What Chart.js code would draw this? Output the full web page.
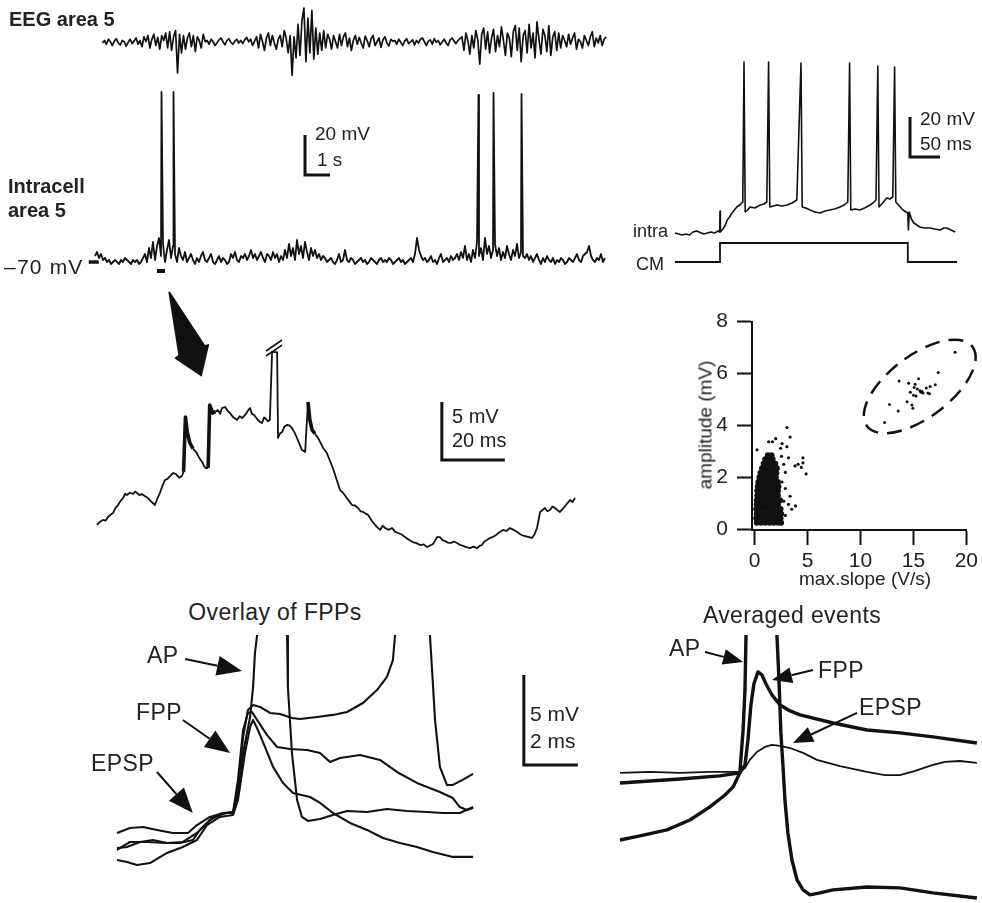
<!DOCTYPE html>
<html>
<head>
<meta charset="utf-8">
<title>Fast prepotentials in area 5</title>
<script src="https://cdn.jsdelivr.net/npm/chart.js@4.4.1/dist/chart.umd.min.js"></script>
<style>
  body { margin: 0; background: #fff; }
  #fig { position: relative; width: 982px; height: 903px; overflow: hidden;
         font-family: "Liberation Sans", Arial, Helvetica, sans-serif; color: #222; }
  #fig canvas { position: absolute; }
  .lbl { position: absolute; line-height: 1; white-space: nowrap; font-size: 20px; transform: translateY(-50%); }
  .lbl.b { font-weight: bold; }
  .lbl.r { transform: translate(-100%, -50%); }
  .lbl.c { transform: translate(-50%, -50%); }
  .lbl.w { font-size: 23px; letter-spacing: 0.4px; }
</style>
</head>
<body>
<div id="fig">
  <canvas id="eeg" width="525" height="80" style="left:90px;top:0px"></canvas>
  <canvas id="intra" width="535" height="195" style="left:80px;top:85px"></canvas>
  <canvas id="cm" width="317" height="215" style="left:665px;top:55px"></canvas>
  <canvas id="zoomTrace" width="500" height="275" style="left:90px;top:285px"></canvas>
  <canvas id="scatter" width="292" height="300" style="left:690px;top:300px"></canvas>
  <canvas id="overlay" width="490" height="250" style="left:100px;top:635px"></canvas>
  <canvas id="averaged" width="382" height="268" style="left:600px;top:635px"></canvas>

  <div class="lbl b" style="left:9px;top:19px">EEG area 5</div>
  <div class="lbl b" style="left:8px;top:186px">Intracell</div>
  <div class="lbl b" style="left:8px;top:210px">area 5</div>
  <div class="lbl" style="left:4px;top:266px;font-size:21px;letter-spacing:1.2px">–70 mV</div>
  <div class="lbl" style="left:315px;top:133px;font-size:19px">20 mV</div>
  <div class="lbl" style="left:317px;top:159px;font-size:19px">1 s</div>

  <div class="lbl" style="left:920px;top:118px;font-size:19px">20 mV</div>
  <div class="lbl" style="left:920px;top:143px;font-size:19px">50 ms</div>
  <div class="lbl r" style="left:668px;top:231px;font-size:18px">intra</div>
  <div class="lbl r" style="left:664px;top:264px;font-size:18px">CM</div>

  <div class="lbl" style="left:452px;top:416px">5 mV</div>
  <div class="lbl" style="left:452px;top:440px">20 ms</div>

  <div class="lbl c" style="left:865px;top:578px;font-size:19px">max.slope (V/s)</div>
  <div class="lbl" style="left:705px;top:425px;font-size:19px;transform:translate(-50%,-50%) rotate(-90deg)">amplitude (mV)</div>

  <div class="lbl c w" style="left:275px;top:612px">Overlay of FPPs</div>
  <div class="lbl w" style="left:147px;top:655px">AP</div>
  <div class="lbl w" style="left:136px;top:712px">FPP</div>
  <div class="lbl w" style="left:91px;top:763px">EPSP</div>
  <div class="lbl" style="left:530px;top:713px;font-size:21px">5 mV</div>
  <div class="lbl" style="left:530px;top:740px;font-size:21px">2 ms</div>

  <div class="lbl c w" style="left:792px;top:615px">Averaged events</div>
  <div class="lbl w" style="left:669px;top:648px">AP</div>
  <div class="lbl w" style="left:818px;top:670px">FPP</div>
  <div class="lbl w" style="left:859px;top:707px">EPSP</div>
</div>

<script>
// ---- EEG, area 5 (µV, sampled every eegDt s from eegT0) ----
const eegT0 = 0.3;
const eegDt = 0.079;
const eegTrace = [
  0, 20, -10, 30, 10, -20, 15, 35, 0, -15, 20, 10, -25, 5, 30, -5, 15, 40, -10, 20,
  -30, 50, 10, 60, -40, 30, 70, -20, 45, -50, 60, 20,
  80, -40, 90, -60, 50, 100, -240, 70, -80, 60,
  -50, 40, 80, -30, 60, -70, 50, 20, -40, 70, 10,
  20, -10, 30, 10, -20, 0, 25, 40, 10, -15, 20, 35, 5, -10, 15, 30, 0, 20, -5, 25, 45, 10, 30, -20, 15,
  50, -40, 70, 10, -60, 40, 80, -20, 60, 0, -50, 30, 60, -30, 100,
  40, -80, 60, -260, 50,
  -120, 150, -100, 180, 280, -150, 200, -80, 260, -130, 120,
  -90, 80, -60, 100, -40, 70,
  30, -50, 60, 10, -40, 70, -20, 50, 80, -30, 40, -60, 20, 60, -10, 45, 0, -40, 55, 20, -30, 35, 60, -20, 10, 40, -35, 25, 50, 0, -25, 30, 15,
  20, -10, 30, 5, -20, 15, 35, -5, 10, 25, -15, 20, 0, 30, 40, 10, -20, 15, 25, -10, 35, 5, 20, -15, 10, 30, 0, -20, 25, 40, 15, -5, 20, 35,
  50, -60, 80, 20, -90, 60, -40, 100, 30, -170, 70, 120, -50, 90, -80, 40, 110, -70, 60, -30, 130, 20, -100, 80, 40,
  -110, 90, 140, -60, 120, -150, 60, 100, -80, 150, -40, 80, -120, 170, 30, -90, 110, 60, -70, 140, -100, 50, 90, -60, 80,
  -40, 60, 20, -30, 70, -10, 40, 80, -50, 30, 10, -40, 60, 20, -20, 50, 90, -30, 40, 0, 60, -20, 30, 50
];

// ---- intracellular, area 5 (mV every intraDt s) and spikes [t s, peak mV] ----
const intraDt = 0.08;
const intraTrace = [
  -67, -65, -68, -66, -69, -68, -70, -69, -71, -70, -69, -70, -71, -69, -70, -68, -69, -70, -71, -69, -70, -69, -71, -70, -68,
  -66, -70, -63, -68, -60, -69, -62, -58, -67, -61, -70, -64, -59, -68, -62, -66, -70, -63,
  -67, -69, -65, -70, -68, -66, -69, -71, -68, -70, -67, -65, -69, -70, -68, -66, -70, -71, -69, -67, -70, -68, -69, -71, -70, -66,
  -68, -65, -69, -70, -67, -68, -66, -69, -67, -64, -68, -66, -69, -67, -65, -68, -70, -66, -67, -69, -65, -68, -66, -70, -67, -69,
  -64, -68, -61, -67, -63, -69, -59, -66, -62, -68, -60, -65, -69, -63, -67, -64, -68, -66, -69, -67,
  -68, -70, -69, -68, -70, -71, -69, -66, -70, -69, -64, -69, -70, -68, -69, -71, -70, -69, -68, -70, -69, -71, -70, -68, -69,
  -70, -71, -69, -68, -70, -69, -70, -68, -69, -71, -70, -69, -68, -70, -69, -71, -70, -69,
  -68, -70, -66, -58, -64, -67, -69, -68, -70, -69, -67, -70, -69, -71, -68, -66, -70, -69, -68, -70, -67, -69, -68,
  -66, -69, -65, -68, -62, -69, -66, -70, -64, -68, -60, -67, -63, -69, -58, -66, -62, -68, -64, -61, -67, -63, -69, -65, -68,
  -62, -66, -69, -64, -67, -61, -68, -65, -67,
  -68, -66, -69, -67, -70, -68, -66, -69, -71, -68, -70, -67, -69, -70, -68, -71, -69, -70, -68, -69, -71, -70, -68, -69, -70,
  -68, -66, -69, -70, -67, -66, -65, -62, -67, -69, -70, -68, -69, -66, -70, -68
];
const intraSpikes = [[2.66, 15], [3.14, 15], [15.34, 13.5], [15.94, 14.5], [17.06, 14]];

// ---- CM stimulation: intracellular response [ms, mV] and command step ----
const cmIntraTrace = [
  [0, -70], [6, -70.5], [12, -71], [18, -70.5], [24, -71], [30, -69.5], [36, -69], [42, -69.8], [48, -70.5], [54, -70],
  [60, -69.5], [66, -70], [72, -69], [74.5, -69.5], [75, -59], [75.6, -69.5], [80, -68], [84, -66], [87, -63.5], [91, -62],
  [95, -60], [99, -58.5], [103, -57], [108, -56], [113, -54.5], [115, 15.5], [117, -59.5], [121, -58.5], [125, -57],
  [133, -57.5], [142, -56], [148, -55.5], [153, -54.5], [156, 15.5], [158, -57], [164, -56.5], [170, -56], [178, -56.5],
  [187, -56], [195, -55], [203, -53.5], [210, 15], [212, -57], [218, -57.5], [225, -58.5], [233, -59.5], [242, -60],
  [250, -59], [258, -58.5], [266, -58], [275, -57], [282, -56], [288, -54.5], [291, 15], [293, -58.5], [300, -58],
  [308, -58.5], [316, -57.5], [325, -56], [330, -55], [335, -53.5], [338, 13.5], [340, -57], [346, -55], [353, -52.5],
  [358, -53], [363, -52], [366, 13], [368, -54.5], [374, -56.5], [380, -58.5], [385, -59.5], [388, -60], [389, -68.5],
  [390.5, -59.5], [394, -63], [398, -65], [403, -66], [408, -67], [416, -67.5], [425, -67.5], [433, -68], [442, -68.5],
  [448, -67.5], [453, -67.5], [460, -68.5], [467, -69.5]
];
const cmTimes = [0, 75, 75, 388, 388, 470];
const cmLevels = [0, 0, 1, 1, 0, 0];

// ---- expanded segment under the bar [ms, mV] ----
const zoomTrace = [
  [2.2, 3.02], [3.2, 3.3], [4.1, 3.45], [5.0, 3.4], [5.7, 3.71], [6.5, 3.9], [7.3, 4.05], [8.1, 4.5], [8.9, 4.74],
  [9.7, 5.1], [10.5, 5.34], [11.1, 5.7], [11.7, 5.6], [12.7, 5.8], [13.7, 5.69], [14.3, 5.9], [14.9, 5.78], [15.7, 5.6],
  [16.5, 5.69], [17.5, 5.5], [18.4, 5.34], [19.6, 5.0], [20.6, 4.74], [21.4, 5.3], [22.2, 5.78], [23.0, 6.4], [23.8, 6.9],
  [24.6, 7.0], [25.4, 7.24], [26.4, 7.5], [27.3, 7.41], [28.3, 7.1], [29.2, 7.24], [29.7, 7.6], [30.3, 12.33], [30.9, 11.0],
  [31.7, 10.09], [32.7, 9.6], [33.7, 9.31], [34.7, 8.8], [35.6, 8.45], [36.2, 8.1], [36.8, 7.93], [37.5, 7.93],
  [38.0, 13.36], [39.0, 12.67], [39.8, 12.8], [40.6, 12.93], [41.3, 12.6], [41.9, 13.1], [42.9, 13.19], [43.6, 12.9],
  [44.4, 12.67], [45.5, 12.3], [46.7, 12.07], [47.5, 12.4], [48.3, 12.24], [49.5, 12.59], [50.2, 12.9], [50.8, 13.1],
  [51.4, 12.6], [52.1, 12.5], [53.3, 12.07], [54.0, 11.9], [54.6, 11.81], [55.3, 12.3], [55.9, 12.16], [56.5, 11.95],
  [57.1, 12.07], [57.8, 17.93], [59.4, 17.93], [59.7, 10.52], [60.3, 10.9], [61.0, 11.03], [61.7, 11.5], [62.5, 11.64],
  [63.3, 11.6], [64.1, 11.38], [64.9, 11.0], [65.7, 10.52], [66.5, 10.0], [67.3, 9.48], [68.3, 9.31], [69.2, 13.62],
  [69.8, 12.07], [70.5, 11.21], [71.4, 10.9], [72.4, 10.52], [73.2, 10.1], [74.0, 9.66], [75.2, 9.22], [76.1, 8.6],
  [77.1, 7.93], [78.2, 7.0], [79.4, 6.03], [80.3, 5.8], [81.3, 5.43], [82.2, 5.1], [83.2, 4.74], [84.1, 4.7], [85.1, 4.48],
  [85.9, 4.2], [86.7, 4.14], [87.5, 4.0], [88.3, 3.88], [89.5, 3.36], [90.8, 2.93], [92.1, 2.59], [92.9, 2.95],
  [93.7, 2.76], [94.8, 2.6], [95.9, 2.76], [96.8, 2.45], [97.8, 2.33], [98.9, 2.2], [100.0, 1.98], [101.2, 1.75],
  [102.5, 1.55], [103.6, 1.45], [104.8, 1.29], [105.9, 1.35], [107.0, 1.12], [108.9, 1.38], [109.6, 1.7], [110.2, 1.98],
  [111.1, 1.98], [111.9, 1.7], [112.7, 1.64], [113.6, 1.5], [114.6, 1.47], [115.5, 1.6], [116.5, 1.47], [117.5, 1.3],
  [118.4, 1.21], [119.5, 1.1], [120.6, 1.03], [121.7, 1.15], [122.9, 1.03], [123.6, 1.2], [124.4, 1.29], [125.2, 1.6],
  [126.0, 1.72], [127.0, 1.9], [128.0, 2.0], [128.9, 2.16], [130.0, 2.4], [131.1, 2.59], [132.2, 2.5], [133.3, 2.76],
  [134.5, 2.6], [135.6, 2.41], [136.7, 2.2], [137.8, 2.07], [139.0, 2.0], [140.3, 1.9], [141.1, 2.2], [141.9, 2.76],
  [142.9, 4.14], [143.6, 4.3], [144.4, 4.48], [145.2, 4.2], [146.0, 4.31], [146.8, 4.6], [147.6, 4.48], [148.4, 4.3],
  [149.2, 4.14], [150.1, 4.4], [151.1, 4.74], [152.4, 5.17], [153.2, 5.0], [154.0, 5.34]
];
const fppWindows = [[29.4, 31.8], [37.4, 39.1], [68.4, 70.6]];

// ---- amplitude vs max. slope of the depolarizing events ----
const slopeTicks = [0, 5, 10, 15, 20];
const ampTicks = [0, 2, 4, 6, 8];
// dense cloud of EPSPs, read row by row: [amplitude mV, [max slope V/s ...]]
const epspRows = [
  [0.25, [0.2, 0.6, 1.0, 1.4, 1.8, 2.2, 2.5]],
  [0.42, [0.15, 0.55, 0.95, 1.35, 1.75, 2.15, 2.45]],
  [0.6, [0.2, 0.6, 1.0, 1.4, 1.8, 2.2, 2.5]],
  [0.78, [0.15, 0.55, 0.95, 1.35, 1.75, 2.15, 2.45]],
  [0.95, [0.2, 0.6, 1.0, 1.4, 1.8, 2.2]],
  [1.12, [0.2, 0.55, 0.95, 1.35, 1.75, 2.1, 2.4]],
  [1.3, [0.25, 0.6, 1.0, 1.4, 1.8, 2.2]],
  [1.48, [0.25, 0.65, 1.05, 1.45, 1.85, 2.2]],
  [1.65, [0.3, 0.7, 1.1, 1.5, 1.9, 2.25]],
  [1.82, [0.35, 0.75, 1.15, 1.55, 1.95, 2.2]],
  [2.0, [0.45, 0.85, 1.25, 1.65, 2.0]],
  [2.18, [0.55, 0.95, 1.35, 1.75, 2.05]],
  [2.35, [0.7, 1.05, 1.45, 1.85, 2.1]],
  [2.52, [0.85, 1.2, 1.6, 1.95]],
  [2.7, [1.0, 1.35, 1.7]],
  [2.85, [1.25, 1.6]]
];
const epspStray = [
  [3.05, 3.92], [3.35, 3.55], [1.99, 3.49], [1.68, 3.37], [1.32, 3.37], [2.59, 3.30], [2.45, 3.12], [0.23, 3.06],
  [3.05, 3.18], [3.20, 2.75], [2.54, 2.81], [2.75, 2.50], [3.81, 2.44], [4.11, 2.50], [4.56, 2.75], [4.56, 2.56],
  [4.41, 2.38], [4.86, 2.13], [2.90, 2.19], [2.59, 1.82], [2.90, 1.57], [3.35, 1.27], [3.20, 0.96], [3.50, 0.77],
  [3.86, 0.90], [2.90, 0.53], [2.75, 1.08], [2.36, 0.83]
];
const fppPoints = [
  [12.28, 4.11], [12.74, 4.81], [13.56, 4.56], [13.65, 5.71], [14.40, 4.91], [14.55, 5.62], [14.71, 5.28], [14.86, 4.79],
  [14.95, 4.66], [15.01, 5.16], [15.07, 5.46], [15.16, 5.59], [15.25, 5.13], [15.37, 5.40], [15.49, 5.80], [15.62, 5.34],
  [15.71, 5.28], [15.80, 5.31], [15.92, 5.25], [16.22, 5.44], [16.37, 5.25], [16.52, 5.22], [16.58, 5.50], [17.07, 5.57],
  [17.34, 6.04], [18.94, 6.82]
];

// ---- overlay of four FPP sweeps [ms, mV] ----
const sweepA = [
  [0, 0], [0.48, 0.28], [0.96, 0.33], [1.48, 0.17], [2.07, 0], [2.63, 0], [2.96, 0.44], [3.44, 0.89], [3.93, 1.11],
  [4.30, 1.17], [4.48, 2.22], [4.67, 4.44], [4.93, 6.44], [5.04, 8.11], [5.11, 10.0], [5.19, 11.0], [5.4, 20],
  [6.1, 20], [6.30, 11.0], [6.33, 8.11], [6.48, 4.44], [6.67, 1.83], [6.85, 0.89], [7.07, 0.67], [7.52, 0.78],
  [8.0, 1.0], [8.52, 1.22], [9.26, 1.17], [10.0, 1.33], [10.74, 1.22], [11.48, 1.17], [12.07, 1.11], [12.70, 1.11],
  [13.19, 1.44]
];
const sweepB = [
  [0, -0.83], [0.37, -0.78], [0.85, -0.5], [1.33, -0.39], [1.85, -0.56], [2.44, -0.5], [2.96, 0], [3.44, 0.72],
  [3.93, 1.11], [4.30, 1.11], [4.48, 2.56], [4.67, 5.33], [4.85, 6.83], [5.04, 7.11], [5.30, 7.0], [5.67, 6.67],
  [6.04, 6.61], [6.48, 6.39], [6.78, 6.33], [7.41, 6.44], [8.0, 6.56], [8.52, 6.72], [9.11, 7.22], [9.63, 7.94],
  [10.0, 8.67], [10.22, 9.61], [10.30, 11.0], [10.5, 20], [11.4, 20], [11.59, 11.0], [11.67, 9.06], [11.78, 6.28],
  [11.96, 3.67], [12.22, 2.67], [12.44, 2.67], [12.78, 2.94], [13.19, 3.28]
];
const sweepC = [
  [0, -0.94], [0.48, -0.5], [1.11, -0.5], [1.85, -0.56], [2.33, -0.56], [2.81, -0.39], [3.07, 0.17], [3.56, 0.89],
  [4.07, 1.11], [4.30, 1.17], [4.48, 2.94], [4.67, 5.72], [4.85, 6.67], [5.0, 6.72], [5.19, 6.28], [5.56, 5.44],
  [5.93, 4.78], [6.41, 4.67], [7.04, 4.61], [7.52, 4.44], [7.89, 3.94], [8.26, 4.17], [9.0, 4.33], [9.74, 4.06],
  [10.37, 3.39], [11.11, 2.78], [11.96, 2.28], [12.44, 1.94], [12.70, 1.44], [12.96, 1.28], [13.19, 1.39]
];
const sweepD = [
  [0, -1.5], [0.37, -1.61], [0.74, -1.78], [1.22, -1.67], [1.85, -1.11], [2.44, -0.78], [2.96, -0.39], [3.33, 0.44],
  [3.81, 0.89], [4.30, 1.0], [4.48, 1.83], [4.74, 4.44], [4.93, 5.89], [5.04, 6.28], [5.22, 5.72], [5.48, 4.78],
  [5.78, 3.67], [6.15, 2.78], [6.52, 2.22], [7.15, 2.0], [7.52, 1.67], [8.0, 1.11], [8.63, 0.56], [9.26, 0.17],
  [9.85, -0.28], [10.48, -0.56], [11.11, -0.78], [11.70, -1.06], [12.44, -1.33], [13.19, -1.33]
];

// ---- averaged AP, FPP and EPSP [ms, mV] ----
const avgAP = [
  [0, -3.17], [0.74, -2.94], [1.74, -2.61], [2.59, -2.06], [3.33, -1.33], [3.89, -0.67], [4.19, -0.22], [4.44, 0.56],
  [4.56, 2.94], [4.63, 5.17], [4.67, 8.33], [4.8, 16], [5.6, 18], [5.75, 14], [5.81, 8.33], [5.89, 5.72], [5.96, 2.78],
  [6.04, 0.89], [6.11, -0.94], [6.22, -2.78], [6.37, -4.28], [6.56, -5.39], [6.78, -5.94], [7.04, -6.22], [7.41, -6.11],
  [7.89, -5.94], [9.15, -5.78], [10.37, -5.83], [11.59, -6.11], [13.22, -6.39]
];
const avgFPP = [
  [0, 0], [2.22, 0.22], [3.70, 0.39], [4.44, 0.56], [4.63, 1.0], [4.74, 2.39], [4.85, 4.33], [4.96, 5.5], [5.11, 6.17],
  [5.26, 6.0], [5.41, 5.5], [5.63, 4.89], [5.93, 4.33], [6.30, 4.0], [6.67, 3.78], [7.89, 3.33], [9.15, 2.94],
  [10.37, 2.78], [11.59, 2.56], [13.22, 2.22]
];
const avgEPSP = [
  [0, 0.56], [1.11, 0.61], [2.22, 0.56], [3.33, 0.61], [4.44, 0.61], [4.63, 0.83], [4.81, 1.28], [5.07, 1.72],
  [5.37, 2.0], [5.63, 2.11], [5.93, 2.06], [6.30, 1.94], [6.78, 1.67], [7.30, 1.28], [8.15, 0.94], [9.15, 0.61],
  [9.81, 0.44], [10.37, 0.44], [10.93, 0.67], [11.59, 1.0], [12.04, 1.17], [12.59, 1.22], [13.22, 1.11]
];

const INK = '#111';
const FONT = "'Liberation Sans', Arial, Helvetica, sans-serif";

const xy = pairs => pairs.map(p => ({ x: p[0], y: p[1] }));

function line(data, width, extra) {
  return Object.assign({
    data: data, borderColor: INK, borderWidth: width, pointRadius: 0,
    tension: 0, fill: false, borderJoinStyle: 'round', borderCapStyle: 'butt'
  }, extra || {});
}

// L-shaped calibration bar, corner at (x, y), going up by dy and right by dx
function scaleBar(x, y, dx, dy, extra) {
  return line([{ x: x, y: y + dy }, { x: x, y: y }, { x: x + dx, y: y }], 3, Object.assign({ borderJoinStyle: 'miter' }, extra || {}));
}

// arrows, filled wedges, free strokes and dashed ellipses, placed in data units
const panelMarks = {
  id: 'panelMarks',
  afterDatasetsDraw(chart, args, opts) {
    const ctx = chart.ctx;
    const X = v => chart.scales.x.getPixelForValue(v);
    const Y = v => chart.scales.y.getPixelForValue(v);
    ctx.save();
    ctx.strokeStyle = INK;
    ctx.fillStyle = INK;
    (opts.arrows || []).forEach(a => {
      const x0 = X(a.from[0]), y0 = Y(a.from[1]), x1 = X(a.to[0]), y1 = Y(a.to[1]);
      const ang = Math.atan2(y1 - y0, x1 - x0);
      const hl = a.head || 22, hw = a.half || 9;
      const bx = x1 - hl * Math.cos(ang), by = y1 - hl * Math.sin(ang);
      ctx.lineWidth = 2;
      ctx.beginPath(); ctx.moveTo(x0, y0); ctx.lineTo(bx, by); ctx.stroke();
      ctx.beginPath();
      ctx.moveTo(x1, y1);
      ctx.lineTo(bx + hw * Math.sin(ang), by - hw * Math.cos(ang));
      ctx.lineTo(bx - hw * Math.sin(ang), by + hw * Math.cos(ang));
      ctx.closePath(); ctx.fill();
    });
    (opts.shapes || []).forEach(s => {
      ctx.beginPath();
      s.forEach((p, i) => i ? ctx.lineTo(X(p[0]), Y(p[1])) : ctx.moveTo(X(p[0]), Y(p[1])));
      ctx.closePath(); ctx.fill();
    });
    (opts.strokes || []).forEach(s => {
      ctx.lineWidth = 1.6;
      ctx.beginPath();
      s.forEach((p, i) => i ? ctx.lineTo(X(p[0]), Y(p[1])) : ctx.moveTo(X(p[0]), Y(p[1])));
      ctx.stroke();
    });
    (opts.ellipses || []).forEach(e => {
      ctx.lineWidth = 2.5;
      ctx.setLineDash([15, 9]);
      ctx.beginPath();
      ctx.ellipse(X(e.center[0]), Y(e.center[1]), e.rx, e.ry, e.rotate * Math.PI / 180, 0, Math.PI * 2);
      ctx.stroke();
      ctx.setLineDash([]);
    });
    ctx.restore();
  }
};

function traceChart(id, datasets, xr, yr, marks, extraScales) {
  const scales = {
    x: { type: 'linear', display: false, min: xr[0], max: xr[1] },
    y: { type: 'linear', display: false, min: yr[0], max: yr[1] }
  };
  Object.assign(scales, extraScales || {});
  return new Chart(document.getElementById(id), {
    type: 'line',
    data: { datasets: datasets },
    options: {
      responsive: false,
      animation: false,
      events: [],
      layout: { padding: 0 },
      scales: scales,
      plugins: { legend: { display: false }, tooltip: { enabled: false }, panelMarks: marks || {} }
    },
    plugins: [panelMarks]
  });
}

// EEG
traceChart('eeg',
  [line(eegTrace.map((v, i) => ({ x: eegT0 + i * eegDt, y: v })), 1.7)],
  [-0.2, 20.8], [-296, 344]);

// intracellular trace with spikes merged in by time
const intraPts = intraTrace.map((v, i) => ({ x: i * intraDt, y: v }));
intraSpikes.forEach(s => intraPts.push({ x: s[0], y: s[1] }));
intraPts.sort((a, b) => a.x - b.x);
traceChart('intra', [
  line(intraPts, 1.8),
  line([{ x: -0.25, y: -70 }, { x: 0.15, y: -70 }], 3.5),
  line([{ x: 2.48, y: -74.5 }, { x: 2.8, y: -74.5 }], 4),
  scaleBar(8.4, -26.5, 1, 20)
], [-0.6, 20.8], [-79, 18.5]);

// CM-evoked firing
traceChart('cm', [
  line(xy(cmIntraTrace), 1.6),
  line(cmTimes.map((t, i) => ({ x: t, y: cmLevels[i] })), 1.8, { yAxisID: 'yCM', borderJoinStyle: 'miter' }),
  scaleBar(391.7, -32, 50, 20)
], [-16.67, 511.67], [-88.5, 19], {}, {
  yCM: { type: 'linear', display: false, min: -0.421, max: 10.895 }
});

// expanded segment, FPPs drawn thicker
traceChart('zoomTrace', [
  line(xy(zoomTrace), 1.8, {
    segment: {
      borderWidth: c => fppWindows.some(w => c.p0.parsed.x >= w[0] && c.p0.parsed.x < w[1]) ? 3.6 : 1.8
    }
  }),
  scaleBar(111.7, 8.62, 20, 5)
], [0, 158.73], [0, 23.71], {
  shapes: [[[24.86, 23.13], [25.40, 23.13], [36.51, 18.53], [37.87, 18.62], [35.46, 15.80], [26.76, 17.39], [28.03, 17.67]]],
  strokes: [[[55.87, 17.59], [60.95, 18.53]], [[55.87, 18.02], [60.95, 18.97]]]
});

// overlay of sweeps
traceChart('overlay', [
  line(xy(sweepA), 2.1), line(xy(sweepB), 2.1), line(xy(sweepC), 2.1), line(xy(sweepD), 2.1),
  scaleBar(15.07, 3.78, 2, 5)
], [-0.63, 17.52], [-2.89, 11.0], {
  arrows: [
    { from: [2.52, 9.67], to: [4.63, 9.0], head: 25, half: 10 },
    { from: [2.44, 6.28], to: [4.19, 4.44], head: 25, half: 10 },
    { from: [1.48, 3.39], to: [2.81, 1.11], head: 25, half: 10 }
  ]
});

// averaged events
traceChart('averaged', [
  line(xy(avgAP), 3.4), line(xy(avgFPP), 3.4), line(xy(avgEPSP), 1.8)
], [-0.74, 13.41], [-6.67, 8.22], {
  arrows: [
    { from: [3.15, 7.28], to: [4.56, 6.72], head: 20, half: 8 },
    { from: [7.15, 6.28], to: [5.63, 5.72], head: 20, half: 8 },
    { from: [8.78, 3.89], to: [6.41, 2.22], head: 20, half: 8 }
  ]
});

// amplitude vs slope scatter
const epspCloud = [];
epspRows.forEach(r => r[1].forEach(s => epspCloud.push({ x: s, y: r[0] })));
const axisLook = {
  grid: { drawOnChartArea: false, drawTicks: true, tickLength: 15, tickWidth: 2, tickColor: INK },
  border: { display: true, color: INK, width: 2 },
  ticks: { color: '#222', font: { family: FONT, size: 21 }, maxRotation: 0 }
};
new Chart(document.getElementById('scatter'), {
  type: 'scatter',
  data: {
    datasets: [
      { data: epspCloud, pointRadius: 3, backgroundColor: INK, borderWidth: 0 },
      { data: xy(epspStray), pointRadius: 1.6, backgroundColor: INK, borderWidth: 0 },
      { data: xy(fppPoints), pointRadius: 1.5, backgroundColor: INK, borderWidth: 0 }
    ]
  },
  options: {
    responsive: false,
    animation: false,
    events: [],
    layout: { padding: { top: 13, right: 7, bottom: 0, left: 0 }, autoPadding: false },
    scales: {
      x: Object.assign({}, axisLook, {
        type: 'linear', min: -0.25, max: 20,
        afterBuildTicks: s => { s.ticks = slopeTicks.map(v => ({ value: v })); },
        afterFit: s => { s.height = 70; },
        ticks: Object.assign({}, axisLook.ticks, { padding: 4 })
      }),
      y: Object.assign({}, axisLook, {
        type: 'linear', min: -0.03, max: 8,
        afterBuildTicks: s => { s.ticks = ampTicks.map(v => ({ value: v })); },
        afterFit: s => { s.width = 62; },
        ticks: Object.assign({}, axisLook.ticks, { padding: 9 })
      })
    },
    plugins: {
      legend: { display: false }, tooltip: { enabled: false },
      panelMarks: { ellipses: [{ center: [15.6, 5.5], rx: 66, ry: 31, rotate: -37 }] }
    }
  },
  plugins: [panelMarks]
});
</script>
</body>
</html>
